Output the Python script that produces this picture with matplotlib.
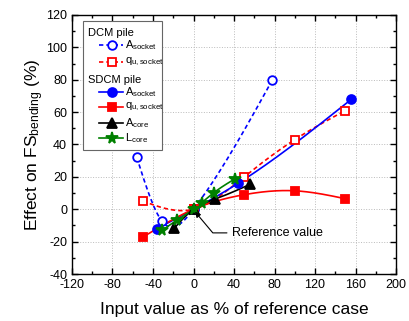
import matplotlib
matplotlib.use("Agg")
import matplotlib.pyplot as plt
import numpy as np
from matplotlib.lines import Line2D
from matplotlib.patches import Rectangle
from matplotlib.ticker import MultipleLocator

plt.rcParams["font.family"] = ["Liberation Sans", "DejaVu Sans"]
plt.rcParams["mathtext.fontset"] = "custom"
plt.rcParams["mathtext.rm"] = "Liberation Sans"
plt.rcParams["mathtext.it"] = "Liberation Sans:italic"
plt.rcParams["axes.unicode_minus"] = False

# DCM pile
dcm_asocket_x = [-56, -31, 0, 78]
dcm_asocket_y = [32, -7.5, 0, 80]
dcm_qu_x = [-50, 0, 50, 100, 150]
dcm_qu_y = [5, 0, 20, 43, 61]

# SDCM pile
sdcm_asocket_x = [-36, 0, 44, 156]
sdcm_asocket_y = [-12, 0, 16, 68]
sdcm_qu_x = [-50, 0, 50, 100, 150]
sdcm_qu_y = [-17.2, 0, 9, 11.4, 6.5]
sdcm_acore_x = [-19, 0, 21, 56]
sdcm_acore_y = [-11.7, 0, 6.2, 15.4]
sdcm_lcore_x = [-31, -16, 0, 8, 20, 41]
sdcm_lcore_y = [-13, -6.6, 0, 4, 10.2, 18.8]


def spline(x, y, n=200):
    # natural cubic spline through the points
    x = np.asarray(x, float)
    y = np.asarray(y, float)
    k = len(x)
    h = np.diff(x)
    A = np.zeros((k, k))
    b = np.zeros(k)
    A[0, 0] = A[-1, -1] = 1
    for i in range(1, k - 1):
        A[i, i - 1] = h[i - 1]
        A[i, i] = 2 * (h[i - 1] + h[i])
        A[i, i + 1] = h[i]
        b[i] = 3 * ((y[i + 1] - y[i]) / h[i] - (y[i] - y[i - 1]) / h[i - 1])
    c = np.linalg.solve(A, b)
    xs = np.linspace(x[0], x[-1], n)
    idx = np.clip(np.searchsorted(x, xs) - 1, 0, k - 2)
    dx = xs - x[idx]
    bb = (y[1:] - y[:-1]) / h - h * (2 * c[:-1] + c[1:]) / 3
    d = (c[1:] - c[:-1]) / (3 * h)
    ys = y[idx] + bb[idx] * dx + c[idx] * dx ** 2 + d[idx] * dx ** 3
    return xs, ys


series = [
    # x, y, color, marker, size, filled, dashed, label
    (dcm_asocket_x, dcm_asocket_y, "#0000ff", "o", 6.2, False, True, r"A$_{\mathrm{socket}}$"),
    (dcm_qu_x, dcm_qu_y, "#ff0000", "s", 5.6, False, True, r"q$_{\mathrm{u,socket}}$"),
    (sdcm_asocket_x, sdcm_asocket_y, "#0000ff", "o", 6.4, True, False, r"A$_{\mathrm{socket}}$"),
    (sdcm_qu_x, sdcm_qu_y, "#ff0000", "s", 5.8, True, False, r"q$_{\mathrm{u,socket}}$"),
    (sdcm_acore_x, sdcm_acore_y, "#000000", "^", 6.8, True, False, r"A$_{\mathrm{core}}$"),
    (sdcm_lcore_x, sdcm_lcore_y, "#008000", "*", 8.5, True, False, r"L$_{\mathrm{core}}$"),
]

fig = plt.figure(figsize=(4.10, 3.21), dpi=100)
ax = fig.add_axes([0.1756, 0.1464, 0.7903, 0.8069])

for x, y, col, mk, ms, filled, dashed, lab in series:
    xs, ys = spline(x, y)
    ln, = ax.plot(xs, ys, color=col, lw=1.2, zorder=3)
    if dashed:
        ln.set_dashes((2.6, 1.8))
    ax.plot(x, y, ls="none", marker=mk, ms=ms, mec=col, mew=1.3,
            mfc=col if filled else "white", zorder=4)

ax.annotate("Reference value", xy=(1.5, -1.5), xytext=(38.5, -14.6),
            ha="left", va="center", fontsize=9,
            arrowprops=dict(arrowstyle="-|>", color="black", lw=0.8,
                            mutation_scale=8, shrinkA=2, shrinkB=0,
                            connectionstyle="angle,angleA=0,angleB=130,rad=0"),
            zorder=6)

ax.set_xlim(-120, 200)
ax.set_ylim(-40, 120)
ax.xaxis.set_major_locator(MultipleLocator(40))
ax.xaxis.set_minor_locator(MultipleLocator(20))
ax.yaxis.set_major_locator(MultipleLocator(20))
ax.yaxis.set_minor_locator(MultipleLocator(10))
ax.tick_params(which="both", direction="in", top=True, right=True, labelsize=9, width=1)
ax.tick_params(which="major", length=4)
ax.tick_params(which="minor", length=2.5)
ax.grid(True, which="major", ls=":", color="#bbbbbb", lw=0.7)
for sp in ax.spines.values():
    sp.set_linewidth(1)

ax.set_xlabel("Input value as % of reference case", fontsize=12.5, labelpad=8)
ax.set_ylabel(r"Effect on FS$_{\mathrm{bending}}$ (%)", fontsize=12.5, labelpad=0)

# legend box with group headers
tr = ax.transAxes
ax.add_patch(Rectangle((0.034, 0.479), 0.244, 0.498, transform=tr,
                       facecolor="white", edgecolor="#666666", lw=0.8, zorder=7))
rows = [0.884, 0.820, 0.704, 0.644, 0.582, 0.524]
ax.text(0.050, 0.932, "DCM pile", transform=tr, fontsize=8, va="center", zorder=8)
ax.text(0.050, 0.749, "SDCM pile", transform=tr, fontsize=8, va="center", zorder=8)
for (x, y, col, mk, ms, filled, dashed, lab), ry in zip(series, rows):
    h = Line2D([0.083, 0.158], [ry, ry], transform=tr, color=col, lw=1.2, zorder=8)
    if dashed:
        h.set_dashes((2.6, 1.8))
    ax.add_line(h)
    ax.add_line(Line2D([0.1225], [ry], transform=tr, ls="none", marker=mk, ms=ms,
                       mec=col, mew=1.3, mfc=col if filled else "white", zorder=9))
    ax.text(0.164, ry, lab, transform=tr, fontsize=8, va="center", zorder=8)

fig.savefig("out.png", dpi=100)
